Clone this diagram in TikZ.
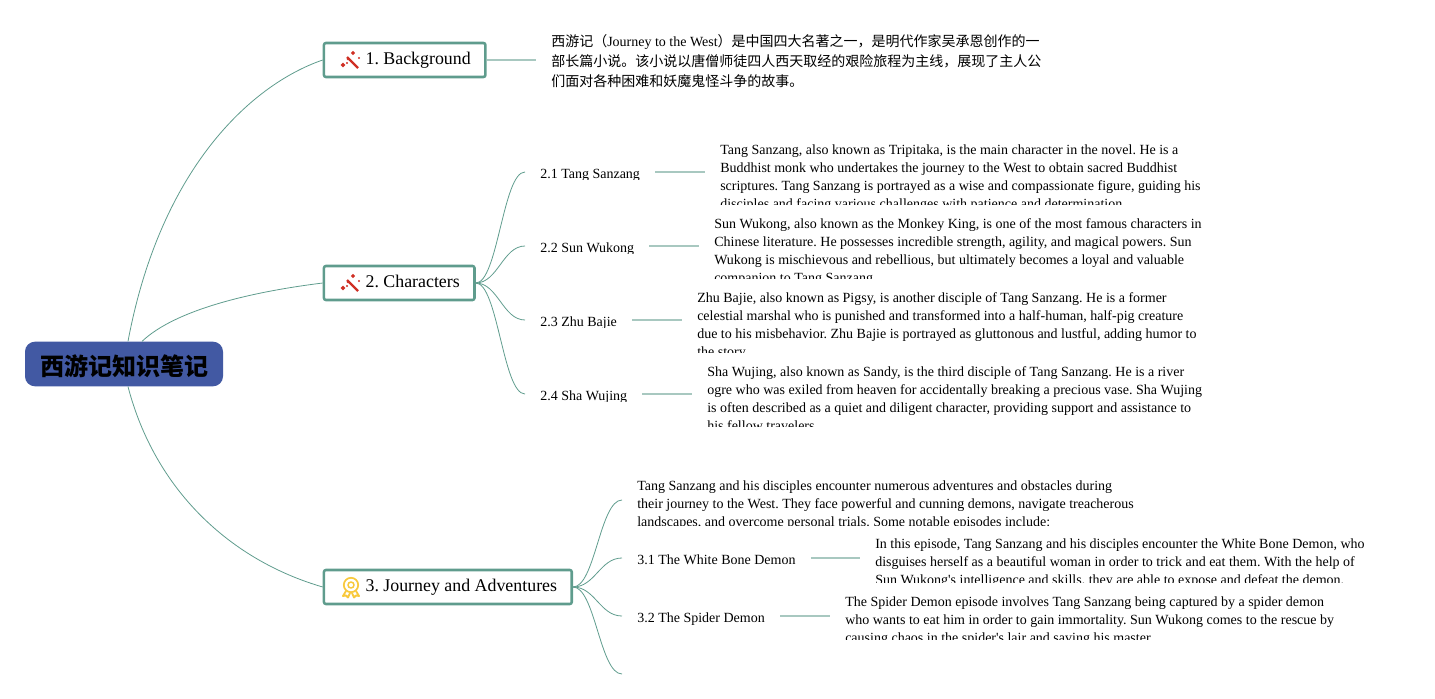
\documentclass[tikz,border=0pt]{standalone}
\usepackage{fontspec}
\setmainfont{Liberation Serif}
\newfontfamily\cjk{Noto Sans CJK SC}
\usepackage{xcolor}
\definecolor{cLink}{HTML}{5F9C8D}
\definecolor{cLeaf}{HTML}{A8C8C0}
\definecolor{cRoot}{HTML}{4259A3}
\definecolor{cWand}{HTML}{CF2F24}
\definecolor{cMedal}{HTML}{F8C93E}
\usepackage{tikz}
\usetikzlibrary{positioning,calc}
\tikzset{
  node-root/.style={fill=cRoot,rounded corners=7.5pt,minimum width=148.5pt,minimum height=33.5pt,
    inner sep=0pt,text height=17.7pt,text depth=0pt,font=\cjk\bfseries\fontsize{18}{22}\selectfont},
  node-topic/.style={draw=cLink,line width=1.9pt,rounded corners=1.5pt,minimum height=25.5pt,
    anchor=west,inner ysep=0pt,inner xsep=11pt,text height=10pt,text depth=3.5pt,
    font=\frenchspacing\fontsize{13.4}{16}\selectfont},
  node-label/.style={anchor=west,inner ysep=0pt,inner xsep=11.25pt,text height=9.5pt,text depth=0.5pt,
    font=\frenchspacing\fontsize{10.5}{13.5}\selectfont},
  node-desc/.style={anchor=north west,inner ysep=0pt,inner xsep=11.25pt,align=left,yshift=-3.75pt,
    font=\frenchspacing\fontsize{10.5}{13.5}\selectfont},
  link/.style={draw=cLink,line width=0.6pt},
  leaf-line/.style={draw=cLeaf,line width=1.3pt},
  wand/.pic={
    \draw[cWand,line width=1.7pt] (-4,-4) -- (7,7);
    \foreach \px/\py/\ps in {-8/4/2.4,2/-8/2.2,8/-3/1.2,-3/-2/1.4,-4/2/1.2}
      \fill[cWand] (\px,\py-\ps) -- (\px+\ps,\py) -- (\px,\py+\ps) -- (\px-\ps,\py) -- cycle;
  },
  medal/.pic={
    \draw[cMedal,line width=1.3pt] (0,-2) circle[radius=7.2];
    \draw[cMedal,line width=1.1pt] (0,-2) circle[radius=3];
    \draw[cMedal,line width=1.4pt,line join=round] (-5,4) -- (-8,9) -- (-5,8.5) -- (-3,10.5) -- (-1,6);
    \draw[cMedal,line width=1.4pt,line join=round] (5,4) -- (8,9) -- (5,8.5) -- (3,10.5) -- (1,6);
  },
}
% name, y centre, text
\newcommand{\leaftext}[3]{%
  \begin{scope}
    \clip (525,#2-9) rectangle (1000,#2+7.5);
    \node[node-label] (#1) at (525,#2) {#3};
  \end{scope}}
% name, x, y top, y clip, text
\newcommand{\desctext}[5]{%
  \begin{scope}
    \clip (#2,#3) rectangle (1435,#4);
    \node[node-desc] (#1) at (#2,#3) {#5};
  \end{scope}}
\begin{document}
\begin{tikzpicture}[x=0.75pt,y=-0.75pt]
  \useasboundingbox (0,0) rectangle (1435,699);
  \node[node-root] (root) at (124,364) {西游记知识笔记};
  \node[node-topic] (bg) at (322.7,60) {\hspace*{20.2pt}1. Background};
  \node[node-topic] (chars) at (322.7,283) {\hspace*{20.2pt}2. Characters};
  \node[node-topic] (trip) at (322.7,587) {\hspace*{20.2pt}3. Journey and Adventures};
  \pic at (351,61) {wand};
  \pic at (351,284) {wand};
  \pic at (351,587) {medal};
  % 1
  \desctext{bgtext}{536}{29}{92}{{\cjk 西游记（}Journey to the West{\cjk ）是中国四大名著之一，是明代作家吴承恩创作的一}\\[1.5pt]
    {\cjk 部长篇小说。该小说以唐僧师徒四人西天取经的艰险旅程为主线，展现了主人公}\\[1.5pt]
    {\cjk 们面对各种困难和妖魔鬼怪斗争的故事。}}
  % 2
  \leaftext{tang}{172}{2.1 Tang Sanzang}
  \leaftext{sun}{246}{2.2 Sun Wukong}
  \leaftext{zhu}{320}{2.3 Zhu Bajie}
  \leaftext{sha}{394}{2.4 Sha Wujing}
  \desctext{tangtext}{705}{140}{204}{Tang Sanzang, also known as Tripitaka, is the main character in the novel. He is a\\
    Buddhist monk who undertakes the journey to the West to obtain sacred Buddhist\\
    scriptures. Tang Sanzang is portrayed as a wise and compassionate figure, guiding his\\
    disciples and facing various challenges with patience and determination.}
  \desctext{suntext}{699}{213}{278}{Sun Wukong, also known as the Monkey King, is one of the most famous characters in\\
    Chinese literature. He possesses incredible strength, agility, and magical powers. Sun\\
    Wukong is mischievous and rebellious, but ultimately becomes a loyal and valuable\\
    companion to Tang Sanzang.}
  \desctext{zhutext}{682}{287}{352}{Zhu Bajie, also known as Pigsy, is another disciple of Tang Sanzang. He is a former\\
    celestial marshal who is punished and transformed into a half-human, half-pig creature\\
    due to his misbehavior. Zhu Bajie is portrayed as gluttonous and lustful, adding humor to\\
    the story.}
  \desctext{shatext}{692}{361}{426}{Sha Wujing, also known as Sandy, is the third disciple of Tang Sanzang. He is a river\\
    ogre who was exiled from heaven for accidentally breaking a precious vase. Sha Wujing\\
    is often described as a quiet and diligent character, providing support and assistance to\\
    his fellow travelers.}
  % 3
  \desctext{triptext}{622}{476}{525}{Tang Sanzang and his disciples encounter numerous adventures and obstacles during\\
    their journey to the West. They face powerful and cunning demons, navigate treacherous\\
    landscapes, and overcome personal trials. Some notable episodes include:}
  \begin{scope}
    \clip (622,549) rectangle (1000,567);
    \node[node-label] (bone) at (622,558) {3.1 The White Bone Demon};
  \end{scope}
  \begin{scope}
    \clip (622,607) rectangle (1000,625);
    \node[node-label] (spider) at (622,616) {3.2 The Spider Demon};
  \end{scope}
  \desctext{bonetext}{860}{534}{582}{In this episode, Tang Sanzang and his disciples encounter the White Bone Demon, who\\
    disguises herself as a beautiful woman in order to trick and eat them. With the help of\\
    Sun Wukong\textquotesingle s intelligence and skills, they are able to expose and defeat the demon.}
  \desctext{spidertext}{830}{592}{639}{The Spider Demon episode involves Tang Sanzang being captured by a spider demon\\
    who wants to eat him in order to gain immortality. Sun Wukong comes to the rescue by\\
    causing chaos in the spider\textquotesingle s lair and saving his master.}
  \coordinate (tripend) at (622,674);
  \coordinate (tripwest) at (622,500);
  % connectors
  \draw[link] ($(root.north)+(4,0)$) .. controls (160,170) and (250,85) .. (bg.west);
  \draw[link] ($(root.north)+(18,0)$) .. controls (175,310) and (250,292) .. (chars.west);
  \draw[link] ($(root.south)+(4,0)$) .. controls (155,490) and (230,560) .. (trip.west);
  \draw[leaf-line] (bg.east) -- (bgtext.west |- bg.east);
  \foreach \a/\b in {tang/tangtext,sun/suntext,zhu/zhutext,sha/shatext,bone/bonetext,spider/spidertext}
    \draw[leaf-line] (\a.east) -- (\a.east -| \b.west);
  \foreach \b in {tang,sun,zhu,sha}
    \draw[link] (chars.east) .. controls +(22,0) and +(-22,0) .. (\b.west);
  \draw[link] (trip.east) .. controls +(22,0) and +(-22,0) .. (tripwest);
  \foreach \b in {bone,spider,tripend}
    \draw[link] (trip.east) .. controls +(22,0) and +(-22,0) .. (\b.west);
\end{tikzpicture}
\end{document}
